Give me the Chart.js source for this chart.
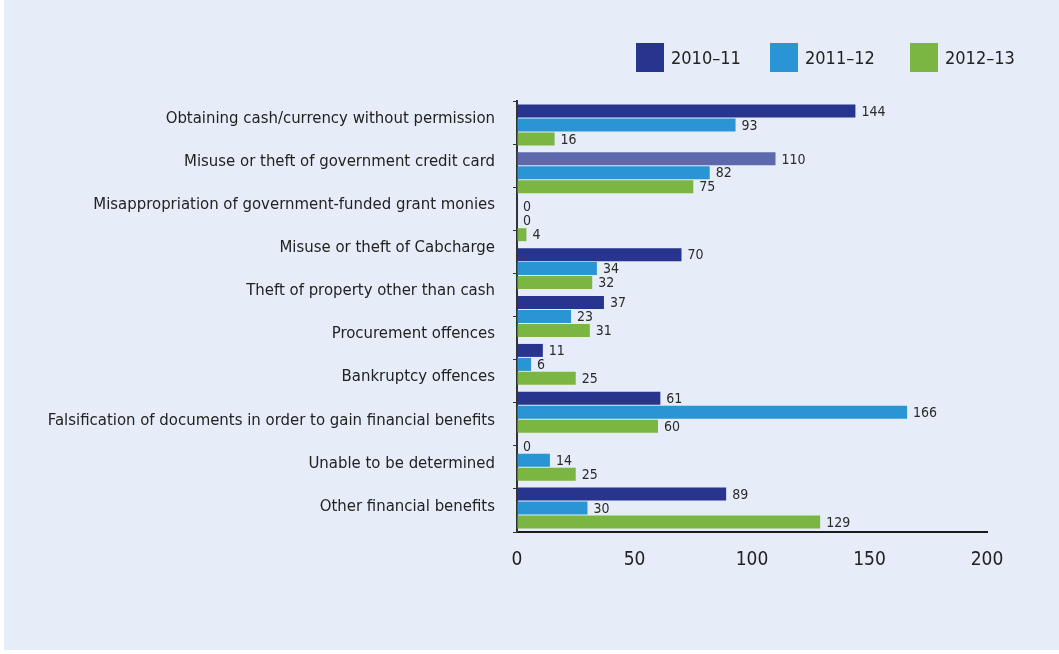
<!DOCTYPE html>
<html>
<head>
<meta charset="utf-8">
<script src="https://cdn.jsdelivr.net/npm/chart.js@4"></script>
<style>
  html, body { margin: 0; padding: 0; background: #ffffff; }
  #panel {
    position: absolute; left: 4px; top: 0;
    width: 1055px; height: 650px;
    background: #e6edf8;
  }
  #chart { position: absolute; left: 0; top: 0; }
  #legend {
    position: absolute; left: 632px; top: 43px;
    display: flex; align-items: center;
    font-family: 'DejaVu Sans Condensed', sans-serif;
    font-size: 18px; color: #222;
  }
  .item { display: flex; align-items: center; }
  .item:nth-child(1) { width: 134px; }
  .item:nth-child(2) { width: 140px; }
  .swatch { width: 28px; height: 29px; margin-right: 7px; }
</style>
</head>
<body>
<div id="panel">
  <canvas id="chart" width="1055" height="650"></canvas>
  <div id="legend"></div>
</div>
<script>
// --- DATA ---
const categories = [
  'Obtaining cash/currency without permission',
  'Misuse or theft of government credit card',
  'Misappropriation of government-funded grant monies',
  'Misuse or theft of Cabcharge',
  'Theft of property other than cash',
  'Procurement offences',
  'Bankruptcy offences',
  'Falsification of documents in order to gain financial benefits',
  'Unable to be determined',
  'Other financial benefits'
];
// bar groups, top to bottom
const barRows = ['Cash', 'Credit card', 'Grant monies', 'Cabcharge', 'Property', 'Offences', 'Falsification', 'Undetermined', 'Other'];
const seriesNames = ['2010–11', '2011–12', '2012–13'];
const values2010 = [144, 110, 0, 70, 37, 11, 61, 0, 89];
const values2011 = [93, 82, 0, 34, 23, 6, 166, 14, 30];
const values2012 = [16, 75, 4, 32, 31, 25, 60, 25, 129];
const xTicks = [0, 50, 100, 150, 200];

// --- STYLE ---
const NAVY = '#27358f';
const NAVY_LIGHT = '#5e68ad';
const BLUE = '#2a95d4';
const GREEN = '#7bb542';
const FONT = "'DejaVu Sans Condensed', sans-serif";
const seriesColors = [NAVY, BLUE, GREEN];

// credit card row is shaded lighter in the first year
const navyColors = barRows.map((r) => r === 'Credit card' ? NAVY_LIGHT : NAVY);

// --- LEGEND ---
const legendElem = document.getElementById('legend');
seriesNames.forEach((name, i) => {
  const item = document.createElement('div');
  item.className = 'item';
  item.innerHTML = `<div class="swatch" style="background:${seriesColors[i]}"></div><span>${name}</span>`;
  legendElem.appendChild(item);
});

// value text at the end of each bar
const barValueLabels = {
  id: 'barValueLabels',
  afterDatasetsDraw(chart) {
    const ctx = chart.ctx;
    ctx.save();
    ctx.font = `14px ${FONT}`;
    ctx.fillStyle = '#2a2a2a';
    ctx.textAlign = 'left';
    ctx.textBaseline = 'middle';
    chart.data.datasets.forEach((ds, di) => {
      chart.getDatasetMeta(di).data.forEach((bar, i) => {
        ctx.fillText(String(ds.data[i]), bar.x + 6, bar.y + 1);
      });
    });
    ctx.restore();
  }
};

const getDataset = (label, data, color) => ({
  label: label,
  data: data,
  backgroundColor: color,
  borderWidth: 0,
  yAxisID: 'y',
  categoryPercentage: 0.875,
  barPercentage: 0.93
});

new Chart(document.getElementById('chart'), {
  type: 'bar',
  data: {
    labels: barRows,
    datasets: [
      getDataset(seriesNames[0], values2010, navyColors),
      getDataset(seriesNames[1], values2011, BLUE),
      getDataset(seriesNames[2], values2012, GREEN)
    ]
  },
  options: {
    indexAxis: 'y',
    responsive: false,
    animation: false,
    layout: { padding: { top: 101, right: 72, bottom: 0, left: 0 } },
    scales: {
      x: {
        type: 'linear',
        min: 0,
        max: 200,
        afterBuildTicks: (axis) => { axis.ticks = xTicks.map((v) => ({ value: v })); },
        afterFit: (axis) => { axis.height = 118; },
        ticks: { color: '#222', font: { family: FONT, size: 19 }, padding: 17 },
        grid: { drawOnChartArea: false, drawTicks: false },
        border: { color: '#1a1a1a', width: 2 }
      },
      y: {
        type: 'category',
        display: false,
        offset: true
      },
      yCat: {
        type: 'category',
        position: 'left',
        labels: categories,
        offset: true,
        afterFit: (axis) => { axis.width = 513; },
        ticks: { color: '#222', font: { family: FONT, size: 16.6 }, padding: 18, labelOffset: -4, autoSkip: false },
        grid: { drawOnChartArea: false, tickLength: 4, color: '#333' },
        border: { color: '#333', width: 2 }
      }
    },
    plugins: {
      legend: { display: false },
      tooltip: { enabled: false }
    }
  },
  plugins: [barValueLabels]
});
</script>
</body>
</html>
